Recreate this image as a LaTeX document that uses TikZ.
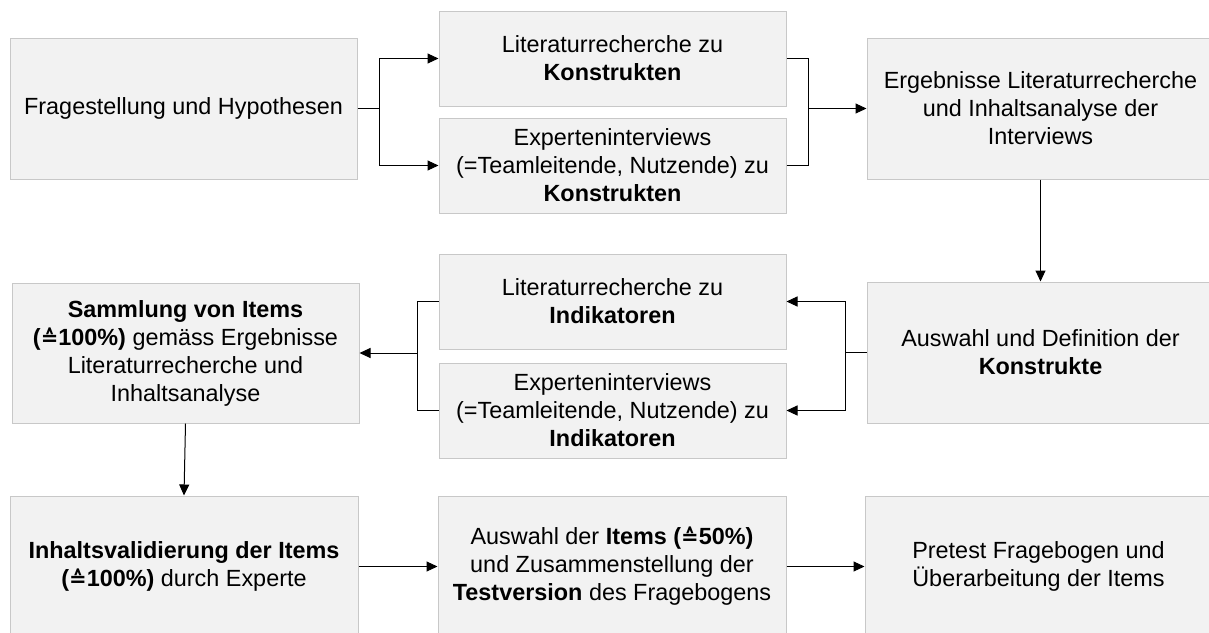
\documentclass[tikz,border=0pt]{standalone}
\usepackage{fontspec}
\setmainfont{Liberation Sans}
\newfontfamily\dejavu{DejaVu Sans}
\usetikzlibrary{arrows.meta}
\newcommand{\corr}{{\dejavu\fontsize{21}{28}\selectfont ≙}}
\definecolor{boxfill}{HTML}{F2F2F2}
\definecolor{boxline}{HTML}{C8C8C8}
\begin{document}
\begin{tikzpicture}[x=1pt,y=-1pt,
  stepbox/.style={draw=boxline, fill=boxfill, line width=1pt, inner sep=0pt,
    align=center, font=\fontsize{23.4}{28}\selectfont,
    minimum width=347pt},
  tall/.style={minimum height=141pt},
  short/.style={minimum height=95pt},
  arr/.style={-{Triangle[length=11pt,width=10pt]}, line width=1pt},
  ln/.style={line width=1pt}]
\useasboundingbox (0,0) rectangle (1209,632);
\clip (0,0) rectangle (1209,632);

% first row
\node[stepbox,tall]  (f)    at (183.5,108.5) {Fragestellung und Hypothesen};
\node[stepbox,short] (lit1) at (612.5,58.5)  {Literaturrecherche zu\\\textbf{Konstrukten}};
\node[stepbox,short] (exp1) at (612.5,165.5) {Experteninterviews\\(=Teamleitende, Nutzende) zu\\\textbf{Konstrukten}};
\node[stepbox,tall]  (erg)  at (1040.5,108.5) {Ergebnisse Literaturrecherche\\und Inhaltsanalyse der\\Interviews};

% second row
\node[stepbox,tall]  (aus)  at (1040.5,352.5) {Auswahl und Definition der\\\textbf{Konstrukte}};
\node[stepbox,short] (lit2) at (612.5,301.5) {Literaturrecherche zu\\\textbf{Indikatoren}};
\node[stepbox,short] (exp2) at (612.5,410.5) {Experteninterviews\\(=Teamleitende, Nutzende) zu\\\textbf{Indikatoren}};
\node[stepbox,minimum height=140pt] (samm) at (185.5,353) {\textbf{Sammlung von Items}\\\textbf{(\corr100\%)} gemäss Ergebnisse\\Literaturrecherche und\\Inhaltsanalyse};

% third row
\node[stepbox,tall,minimum width=348pt] (inh) at (184,566.5) {\textbf{Inhaltsvalidierung der Items}\\\textbf{(\corr100\%)} durch Experte};
\node[stepbox,tall,minimum width=348pt] (ausw) at (612,566.5) {Auswahl der \textbf{Items (\corr50\%)}\\und Zusammenstellung der\\\textbf{Testversion} des Fragebogens};
\node[stepbox,tall] (pre) at (1038.5,566.5) {Pretest Fragebogen und\\Überarbeitung der Items};

% branching points
\coordinate (j1) at (379,108.5);
\coordinate (j2) at (808,108.5);
\coordinate (j3) at (845,352.5);
\coordinate (j4) at (417,353);

% connectors
\draw[ln] (f.east) -- (j1);
\draw[arr] (j1) |- (lit1.west);
\draw[arr] (j1) |- (exp1.west);
\draw[ln] (lit1.east) -| (j2);
\draw[ln] (exp1.east) -| (j2);
\draw[arr] (j2) -- (erg.west);
\draw[arr] (erg.south) -- (aus.north);
\draw[ln] (aus.west) -- (j3);
\draw[arr] (j3) |- (lit2.east);
\draw[arr] (j3) |- (exp2.east);
\draw[ln] (lit2.west) -| (j4);
\draw[ln] (exp2.west) -| (j4);
\draw[arr] (j4) -- (samm.east);
\draw[arr] (samm.south) -- (inh.north);
\draw[arr] (inh.east) -- (ausw.west);
\draw[arr] (ausw.east) -- (pre.west);
\end{tikzpicture}
\end{document}
